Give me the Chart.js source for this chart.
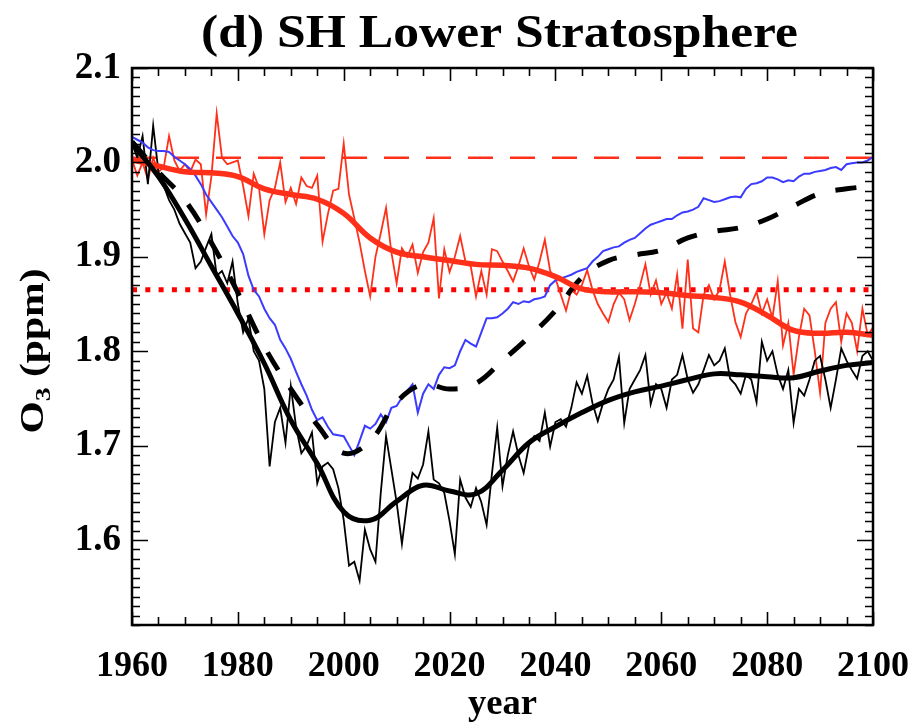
<!DOCTYPE html>
<html>
<head>
<meta charset="utf-8">
<script src="https://cdn.jsdelivr.net/npm/chart.js@4.4.0/dist/chart.umd.min.js"></script>
<style>
  html, body { margin: 0; padding: 0; background: #fff; }
</style>
</head>
<body>
<canvas id="o3chart" width="919" height="725"></canvas>
<script>
// annual model years
const years = Array.from({ length: 141 }, (_, i) => 1960 + i);
// 5-year points for the smoothed curves
const smoothYears = [1960, 1965, 1970, 1975, 1980, 1985, 1990, 1995, 2000, 2005,
  2010, 2015, 2020, 2025, 2030, 2035, 2040, 2045, 2050, 2055,
  2060, 2065, 2070, 2075, 2080, 2085, 2090, 2095, 2100];

const xTicks = [1960, 1980, 2000, 2020, 2040, 2060, 2080, 2100];
const yTicks = [1.6, 1.7, 1.8, 1.9, 2.0, 2.1];

// reference levels
const level1960 = 2.005;
const level1980 = 1.865;

// red: annual run and its smooth fit
const redAnnual = [
  2.003, 1.986, 2.000, 1.982, 2.005, 1.990, 1.995, 2.028, 2.002, 1.991,
  1.998, 1.990, 2.003, 1.998, 1.945, 1.985, 2.052, 2.005, 1.998, 2.000,
  2.002, 1.975, 1.943, 1.988, 1.973, 1.924, 1.960, 1.973, 2.000, 1.958,
  1.973, 1.956, 1.984, 1.975, 1.973, 1.986, 1.916, 1.945, 1.970, 1.972,
  2.020, 1.966, 1.941, 1.915, 1.885, 1.858, 1.900, 1.925, 1.952, 1.905,
  1.872, 1.909, 1.900, 1.913, 1.883, 1.905, 1.915, 1.941, 1.856, 1.908,
  1.884, 1.900, 1.922, 1.895, 1.890, 1.858, 1.885, 1.860, 1.908, 1.906,
  1.895, 1.885, 1.874, 1.890, 1.909, 1.890, 1.876, 1.895, 1.918, 1.885,
  1.877, 1.860, 1.843, 1.865, 1.860, 1.870, 1.886, 1.865, 1.850, 1.840,
  1.831, 1.850, 1.862, 1.855, 1.833, 1.850, 1.870, 1.892, 1.860, 1.875,
  1.850, 1.862, 1.845, 1.881, 1.824, 1.897, 1.824, 1.820, 1.860, 1.870,
  1.855, 1.865, 1.895, 1.860, 1.831, 1.815, 1.840, 1.850, 1.863, 1.840,
  1.855, 1.835, 1.874, 1.806, 1.830, 1.775, 1.815, 1.845, 1.838, 1.800,
  1.756, 1.830, 1.845, 1.852, 1.810, 1.840, 1.830, 1.800, 1.845, 1.817,
  1.825
];
const redSmooth = [
  2.003, 1.996, 1.990, 1.989, 1.985, 1.972, 1.966, 1.961, 1.946, 1.920,
  1.905, 1.900, 1.896, 1.892, 1.891, 1.888, 1.879, 1.866, 1.863, 1.863,
  1.862, 1.859, 1.857, 1.852, 1.838, 1.822, 1.819, 1.820, 1.817
];

// black: annual run, smooth fit, and dashed run
const blackAnnual = [
  2.020, 2.005, 2.028, 1.977, 2.039, 1.990, 1.975, 1.960, 1.950, 1.935,
  1.925, 1.915, 1.888, 1.895, 1.910, 1.924, 1.880, 1.885, 1.872, 1.895,
  1.850, 1.820, 1.835, 1.800, 1.790, 1.760, 1.678, 1.725, 1.740, 1.703,
  1.763, 1.720, 1.692, 1.700, 1.714, 1.660, 1.678, 1.682, 1.675, 1.655,
  1.621, 1.573, 1.577, 1.557, 1.611, 1.590, 1.577, 1.650, 1.710, 1.675,
  1.640, 1.596, 1.640, 1.671, 1.665, 1.680, 1.715, 1.664, 1.660, 1.650,
  1.620, 1.585, 1.664, 1.645, 1.635, 1.655, 1.640, 1.616, 1.670, 1.719,
  1.657, 1.690, 1.715, 1.690, 1.671, 1.700, 1.710, 1.705, 1.735, 1.699,
  1.725, 1.728, 1.720, 1.740, 1.767, 1.755, 1.774, 1.745, 1.726, 1.745,
  1.760, 1.770, 1.794, 1.724, 1.760, 1.770, 1.780, 1.796, 1.744, 1.765,
  1.760, 1.740, 1.770, 1.775, 1.796, 1.770, 1.756, 1.765, 1.780, 1.796,
  1.785, 1.790, 1.803, 1.771, 1.765, 1.755, 1.775, 1.770, 1.746, 1.810,
  1.790, 1.800, 1.775, 1.760, 1.780, 1.724, 1.760, 1.753, 1.770, 1.790,
  1.795, 1.770, 1.740, 1.770, 1.803, 1.790, 1.780, 1.771, 1.795, 1.800,
  1.790
];
const blackSmooth = [
  2.020, 1.985, 1.940, 1.890, 1.840, 1.787, 1.727, 1.681, 1.630, 1.621,
  1.641, 1.658, 1.652, 1.649, 1.674, 1.703, 1.720, 1.735, 1.748, 1.757,
  1.763, 1.770, 1.776, 1.775, 1.773, 1.772, 1.779, 1.785, 1.788
];
const blackDashed = [
  2.022, 1.990, 1.960, 1.915, 1.862, 1.805, 1.760, 1.722, 1.692, 1.705,
  1.746, 1.765, 1.760, 1.766, 1.790, 1.815, 1.843, 1.878, 1.896, 1.902,
  1.907, 1.920, 1.927, 1.931, 1.940, 1.954, 1.967, 1.972, 1.975
];

// blue annual run
const blueAnnual = [
  2.027, 2.024, 2.021, 2.016, 2.013, 2.012, 2.012, 2.011, 2.006, 2.002,
  1.998, 1.993, 1.986, 1.977, 1.966, 1.958, 1.950, 1.942, 1.932, 1.922,
  1.915, 1.903, 1.880, 1.865, 1.858, 1.845, 1.835, 1.828, 1.812, 1.803,
  1.792, 1.778, 1.765, 1.753, 1.738, 1.727, 1.730, 1.720, 1.712, 1.711,
  1.710, 1.700, 1.690, 1.705, 1.721, 1.718, 1.723, 1.733, 1.725, 1.740,
  1.742, 1.751, 1.758, 1.765, 1.735, 1.755, 1.765, 1.760, 1.775, 1.783,
  1.782, 1.785, 1.800, 1.812, 1.808, 1.805, 1.820, 1.835, 1.835, 1.836,
  1.840, 1.845, 1.852, 1.850, 1.853, 1.852, 1.855, 1.856, 1.858, 1.870,
  1.875, 1.877, 1.879, 1.881, 1.884, 1.886, 1.888, 1.895, 1.900, 1.906,
  1.908, 1.910, 1.911, 1.915, 1.918, 1.920, 1.925, 1.930, 1.934, 1.936,
  1.938, 1.940, 1.940, 1.944, 1.947, 1.948, 1.950, 1.953, 1.962, 1.960,
  1.958, 1.959, 1.961, 1.963, 1.964, 1.963, 1.972, 1.977, 1.978, 1.980,
  1.984, 1.984, 1.982, 1.979, 1.981, 1.980, 1.985, 1.988, 1.988, 1.990,
  1.991, 1.992, 1.994, 1.995, 1.992, 1.998, 1.999, 2.000, 2.000, 2.002,
  2.006
];

const SERIF = '"Liberation Serif", "Times New Roman", serif';
const RED = '#ff3019';
const BLUE = '#3b3bff';

const pts = (xs, ys) => xs.map((x, i) => ({ x, y: ys[i] }));
const flat = (v) => [{ x: 1960, y: v }, { x: 2100, y: v }];

// text stretched along its baseline to a given width
function wideText(ctx, text, x, y, width) {
  const w = ctx.measureText(text).width;
  ctx.save();
  ctx.translate(x, y);
  ctx.scale(width / w, 1);
  ctx.textAlign = 'center';
  ctx.fillText(text, 0, 0);
  ctx.restore();
}

// box with inward ticks on all four sides, plus the text around it
const framePlugin = {
  id: 'frame',
  afterDraw(chart) {
    const { ctx, chartArea: a, scales: { x, y } } = chart;
    ctx.save();
    ctx.strokeStyle = '#000';
    ctx.lineWidth = 1.6;
    ctx.beginPath();
    for (let yr = 1960; yr <= 2100; yr += 5) {
      const px = Math.round(x.getPixelForValue(yr)) + 0.5;
      const len = yr % 20 === 0 ? 13 : 8;
      ctx.moveTo(px, a.bottom); ctx.lineTo(px, a.bottom - len);
      ctx.moveTo(px, a.top); ctx.lineTo(px, a.top + len);
    }
    for (let k = 151; k <= 210; k++) {
      const py = Math.round(y.getPixelForValue(k / 100)) + 0.5;
      const len = k % 10 === 0 ? 16 : 8;
      ctx.moveTo(a.left, py); ctx.lineTo(a.left + len, py);
      ctx.moveTo(a.right, py); ctx.lineTo(a.right - len, py);
    }
    ctx.stroke();
    ctx.lineWidth = 2.5;
    ctx.strokeRect(a.left, a.top, a.right - a.left, a.bottom - a.top);

    const cx = (a.left + a.right) / 2;
    ctx.fillStyle = '#000';
    ctx.textBaseline = 'alphabetic';
    ctx.font = 'bold 47px ' + SERIF;
    wideText(ctx, '(d) SH Lower Stratosphere', cx - 3, 47, 597);

    ctx.font = 'bold 36px ' + SERIF;
    wideText(ctx, 'year', cx, 714, 69);

    // O3 (ppm), rotated, with a lowered 3
    const big = 'bold 33px ' + SERIF, small = 'bold 22px ' + SERIF;
    ctx.font = big; const wO = ctx.measureText('O').width;
    const wRest = ctx.measureText(' (ppm)').width;
    ctx.font = small; const w3 = ctx.measureText('3').width;
    const total = wO + w3 + wRest;
    const stretch = 165 / total;
    ctx.translate(43, 351);
    ctx.rotate(-Math.PI / 2);
    ctx.scale(stretch, 1);
    ctx.textAlign = 'left';
    let tx = -total / 2;
    ctx.font = big; ctx.fillText('O', tx, 0); tx += wO;
    ctx.font = small; ctx.fillText('3', tx, 7); tx += w3;
    ctx.font = big; ctx.fillText(' (ppm)', tx, 0);
    ctx.restore();
  }
};

new Chart(document.getElementById('o3chart'), {
  type: 'line',
  data: {
    datasets: [
      { data: flat(level1960), borderColor: RED, borderWidth: 2.5, borderDash: [25, 17], order: 9 },
      { data: flat(level1980), borderColor: '#ff0000', borderWidth: 5, borderDash: [5, 8.3], order: 8 },
      { data: pts(years, redAnnual), borderColor: RED, borderWidth: 1.8, order: 7 },
      { data: pts(years, blackAnnual), borderColor: '#000', borderWidth: 1.8, order: 6 },
      { data: pts(years, blueAnnual), borderColor: BLUE, borderWidth: 2, order: 5 },
      { data: pts(smoothYears, blackDashed), borderColor: '#000', borderWidth: 5, borderDash: [21, 21], tension: 0.4, order: 4 },
      { data: pts(smoothYears, redSmooth), borderColor: RED, borderWidth: 5.5, tension: 0.4, order: 3 },
      { data: pts(smoothYears, blackSmooth), borderColor: '#000', borderWidth: 5, tension: 0.4, order: 2 }
    ]
  },
  options: {
    responsive: false,
    animation: false,
    devicePixelRatio: 1,
    layout: { padding: { top: 68, right: 46, left: 0, bottom: 0 } },
    elements: { point: { radius: 0 }, line: { borderCapStyle: 'butt' } },
    plugins: { legend: { display: false }, tooltip: { enabled: false } },
    scales: {
      x: {
        type: 'linear',
        min: 1960,
        max: 2100,
        afterBuildTicks: (s) => { s.ticks = xTicks.map(v => ({ value: v })); },
        afterFit: (s) => { s.height = 100; s.paddingLeft = 0; s.paddingRight = 0; },
        grid: { display: false, drawTicks: false },
        border: { display: false },
        ticks: {
          color: '#000',
          padding: 20,
          maxRotation: 0,
          font: { family: SERIF, weight: 'bold', size: 36 },
          callback: (v) => String(v)
        }
      },
      y: {
        min: 1.51,
        max: 2.1,
        afterBuildTicks: (s) => { s.ticks = yTicks.map(v => ({ value: v })); },
        afterFit: (s) => { s.width = 132; s.paddingTop = 0; s.paddingBottom = 0; },
        grid: { display: false, drawTicks: false },
        border: { display: false },
        ticks: {
          color: '#000',
          padding: 11,
          font: { family: SERIF, weight: 'bold', size: 37 },
          callback: (v) => v.toFixed(1)
        }
      }
    }
  },
  plugins: [framePlugin]
});
</script>
</body>
</html>
